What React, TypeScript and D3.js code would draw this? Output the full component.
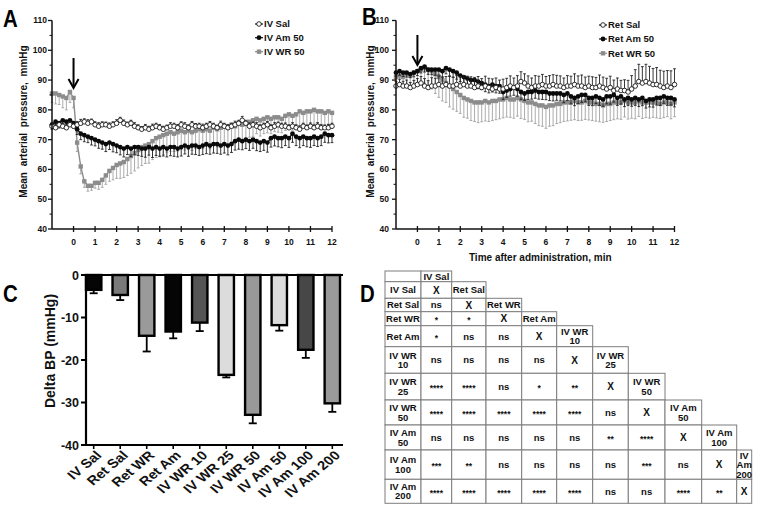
import React from 'react';
import * as d3 from 'd3';

const FONT = "'Liberation Sans', Arial, Helvetica, sans-serif";
const GREY = '#8c8c8c';
const GREY_ERR = '#a3a3a3';

// sampling grid: one reading every 10 s from -1 to 12 min
const times = d3.range(79).map((i) => -1 + i / 6);

// ---------- Panel A (IV) ----------
const ivSal = [
  74.5, 74, 75, 74.5, 74, 75,
  74.5, 75, 75.5, 76, 75.5, 76,
  75, 74.5, 75, 75, 74.5, 75,
  75.5, 76.5, 75.5, 75, 75.5, 74.5,
  74, 73.5, 74, 73.5, 74, 74.5,
  74, 73.5, 74, 74.5, 74.5, 74,
  75, 74.5, 74, 75, 74.5, 74.5,
  74, 74.5, 75, 74.5, 74, 75,
  74.5, 74, 74.5, 75, 75.5, 76.5,
  75.5, 74.5, 75, 74.5, 74, 74.5,
  75, 74, 74.5, 75, 74.5, 74.5,
  74, 74.5, 74, 73.5, 74.5, 74,
  74.5, 74, 74.5, 74, 74, 74,
  74.5,
];
const ivSalErr = [
  1, 1.2, 0.8, 1, 1.2, 0.9,
  1, 1.1, 1.3, 1, 1.2, 0.9,
  1, 1.2, 1, 0.9, 1.1, 1,
  1.2, 1, 1.1, 0.9, 1, 1.2,
  1, 0.9, 1.1, 1, 1.2, 1,
  1.1, 1, 0.9, 1.2, 1, 1.1,
  1, 1.2, 1, 1.1, 0.9, 1,
  1.2, 1, 1.1, 1, 0.9, 1.2,
  1, 1.1, 1, 1.2, 1, 1.3,
  1, 1.1, 0.9, 1.2, 1, 1,
  1.1, 1, 1.2, 0.9, 1, 1.1,
  1, 1.2, 1, 1.1, 1, 0.9,
  1.1, 1, 1.2, 1, 0.9, 1.1,
  1,
];
const ivAm50 = [
  75, 76, 75.5, 76.5, 76, 76.5,
  75.5, 73.5, 72, 71.5, 71, 70.5,
  70, 69.5, 69, 68.5, 69, 68.5,
  68, 67.5, 67, 67.5, 67, 67.5,
  67.5, 67, 67, 67.5, 67, 67.5,
  67, 67.5, 67, 67.5, 67.5, 67,
  67.5, 68, 67.5, 68, 68, 67.5,
  68, 68.5, 68, 68.5, 68.5, 68,
  68.5, 68, 68.5, 69.5, 70, 69.5,
  70, 69.5, 70, 69.5, 69, 69.5,
  69, 70.5, 71, 70.5, 70.5, 71,
  70.5, 72, 71, 70.5, 71, 70.5,
  70.5, 71, 70.5, 71, 72, 71.5,
  71.5,
];
const ivAm50Err = [
  1.5, 1.8, 1.6, 2, 1.7, 1.5,
  1.6, 1.8, 2, 2.2, 2, 2.3,
  2.1, 2.4, 2.2, 2.5, 2.3, 2.6,
  2.4, 2.6, 2.8, 2.5, 2.7, 2.6,
  2.8, 2.6, 2.9, 2.7, 3, 2.8,
  2.7, 3, 2.8, 2.9, 3.1, 2.8,
  3, 2.8, 3.1, 2.9, 3, 2.8,
  3, 3.2, 2.9, 3, 3.1, 2.9,
  3, 3.1, 2.8, 3, 3.2, 2.9,
  3, 3.1, 2.9, 3.2, 3, 3.1,
  3.2, 3, 3.1, 2.9, 3.2, 3,
  3.1, 2.9, 3, 3.2, 3, 2.9,
  3.1, 3, 2.8, 3, 2.9, 2.6,
  2.5,
];
const ivWR50 = [
  85.5, 85.5, 85, 84.5, 84, 86,
  84, 69, 61, 56, 54.5, 54.5,
  55.5, 55.5, 56.5, 58, 59.5, 60.5,
  61.5, 62, 62.5, 63.5, 64.5, 65.5,
  66.5, 67.5, 68, 68.5, 69.5, 70.5,
  71, 71.5, 72, 72.5, 72, 72.5,
  73, 72.5, 73, 72.5, 73, 73.5,
  73, 73.5, 73, 74, 73.5, 74,
  74.5, 74, 75, 74.5, 75.5, 75,
  75.5, 76, 76.5, 77, 76.5, 77,
  77.5, 77, 77.5, 77.5, 77, 78,
  78.5, 78, 78.5, 79.5, 79, 79.5,
  79.5, 80, 79.5, 79.5, 79, 79.5,
  79,
];
const ivWR50Err = [
  3, 3.5, 3.2, 3.8, 4, 3.5,
  3.3, 3, 2.5, 2, 1.8, 1.5,
  1.8, 2.2, 2.5, 3, 3.5, 4,
  4.5, 5, 5.2, 5.5, 5.8, 6,
  6, 6.2, 6, 6.4, 6.2, 6.5,
  6.3, 6.5, 6.2, 6.4, 6, 6.3,
  6.2, 6, 6.3, 6.1, 6, 5.8,
  6, 5.8, 6, 5.7, 5.9, 5.6,
  5.8, 5.5, 5.7, 5.4, 5.6, 5.3,
  5.5, 5.2, 5.4, 5, 5.3, 5,
  5.2, 5, 4.8, 5, 4.7, 4.9,
  4.6, 4.8, 4.5, 4.7, 4.4, 4.6,
  4.3, 4.5, 4.2, 4.4, 4.1, 4.3,
  4,
];

// ---------- Panel B (Ret) ----------
const retSal = [
  88, 88.5, 88, 88, 87.5, 88,
  88.5, 89, 88, 87.5, 88, 88,
  88.5, 88, 88.5, 88, 88, 88.5,
  88, 88.5, 88, 88, 87.5, 88,
  87.5, 88, 87.5, 87, 87.5, 87,
  87, 87.5, 88, 87.5, 88, 89.5,
  89, 88, 87.5, 88, 88, 88.5,
  88, 88, 88.5, 88, 88, 87.5,
  88, 88, 88.5, 88, 88, 87.5,
  88, 87.5, 87.5, 88, 87.5, 87,
  87.5, 86.5, 87, 86.5, 86.5, 86,
  87, 88, 89.5, 89, 89.5, 89,
  88.5, 88.5, 88, 87.5, 88, 87.5,
  88.5,
];
const retSalErr = [
  1.5, 1.8, 1.6, 2, 1.7, 1.9,
  2, 2.2, 2.5, 2.3, 2.8, 2.6,
  2.8, 3, 2.7, 3.2, 2.9, 3,
  3.2, 3, 3.3, 3.1, 3.4, 3.2,
  3, 3.3, 3.1, 3.4, 3.2, 3,
  3.3, 3.1, 3.4, 3.2, 3.5, 3.3,
  3.1, 3.4, 3.2, 3.5, 3.3, 3.4,
  3.2, 3.5, 3.3, 3.6, 3.4, 3.2,
  3.5, 3.3, 3.6, 3.4, 3.7, 3.5,
  3.3, 3.6, 3.4, 3.7, 3.5, 3.6,
  3.8, 3.5, 3.7, 3.4, 3.6, 3.9,
  4.5, 5.5, 5.8, 5.5, 5.8, 5.6,
  5.4, 5.7, 5.3, 5.5, 5.2, 5.6,
  5.3,
];
const retAm50 = [
  92.5, 93, 92.5, 92.5, 92, 92.5,
  93, 94, 94.5, 93.5, 93.5, 93.5,
  93.5, 93, 94, 93.5, 93, 92.5,
  91.5, 91, 90.5, 90, 90, 89.5,
  89, 88.5, 88, 88.5, 88, 88,
  86, 86.5, 87, 87.5, 87, 86,
  85.5, 86, 86, 86.5, 86, 86,
  86, 85.5, 85.5, 85.5, 85.5, 85,
  85.5, 84.5, 84, 84.5, 85, 85,
  84, 84, 84.5, 84, 83.5, 84.5,
  84.5, 85, 84, 84.5, 83.5, 84,
  83.5, 84, 83.5, 84, 83, 83.5,
  83.5, 84, 84, 84.5, 84, 84,
  83.5,
];
const retAm50Err = [
  1.2, 1.4, 1.3, 1.5, 1.2, 1.4,
  1.5, 1.6, 1.8, 1.6, 1.7, 1.9,
  1.8, 2, 1.9, 2.1, 2, 2.2,
  2, 2.2, 2.1, 2.3, 2.2, 2.4,
  2.2, 2.4, 2.3, 2.5, 2.3, 2.4,
  2.5, 2.3, 2.4, 2.6, 2.4, 2.5,
  2.3, 2.5, 2.4, 2.6, 2.4, 2.5,
  2.6, 2.4, 2.5, 2.3, 2.5, 2.6,
  2.4, 2.5, 2.6, 2.4, 2.5, 2.3,
  2.5, 2.6, 2.4, 2.5, 2.3, 2.5,
  2.6, 2.4, 2.5, 2.6, 2.4, 2.5,
  2.3, 2.5, 2.4, 2.6, 2.4, 2.5,
  2.6, 2.4, 2.5, 2.3, 2.5, 2.4,
  2.5,
];
const retWR50 = [
  91, 91.5, 91, 92, 91.5, 92.5,
  93, 93.5, 94, 93.5, 93, 92,
  91, 90, 89, 88, 87, 86,
  85, 84, 83.5, 83, 82.5, 82.5,
  82.5, 83, 82.5, 83, 83, 83.5,
  83.5, 84, 83.5, 83.5, 84, 83.5,
  83, 82.5, 82.5, 82, 81.5, 81.5,
  81, 81.5, 81.5, 82, 82, 82.5,
  82.5, 82.5, 83, 82.5, 82.5, 83,
  82.5, 82.5, 82, 82, 81.5, 82,
  82, 82.5, 82.5, 82.5, 83, 82.5,
  82.5, 82.5, 83, 82.5, 82.5, 82.5,
  82.5, 82.5, 82, 82.5, 82.5, 82,
  82.5,
];
const retWR50Err = [
  3, 3.5, 3.2, 3.8, 3.4, 4,
  4.2, 4.5, 5, 5.5, 6, 6.5,
  6.8, 7, 6.5, 7, 6.8, 6.5,
  6.2, 6.5, 6.3, 6.6, 6.4, 6.8,
  6.5, 6.7, 6.4, 6.6, 6.3, 6.5,
  6.2, 6.4, 6, 6.3, 6.1, 6.4,
  6.2, 6.5, 6.3, 6.6, 6.8, 7,
  7.2, 7, 6.8, 6.6, 6.3, 6.4,
  6.2, 6, 6.3, 6.1, 6, 6.2,
  5.9, 6.1, 5.8, 6, 5.7, 5.9,
  5.6, 5.8, 5.5, 5.7, 5.4, 5.6,
  5.3, 5.5, 5.2, 5.4, 5.1, 5.3,
  5, 5.2, 4.9, 5.1, 4.8, 5,
  4.8,
];

const xTicks = d3.range(0, 13);
const yTicksMajor = [40, 50, 60, 70, 80, 90, 100, 110];
const yTicksMinor = [45, 55, 65, 75, 85, 95, 105];

// ---------- Panel C ----------
const groups = ['IV Sal', 'Ret Sal', 'Ret WR', 'Ret Am', 'IV WR 10', 'IV WR 25', 'IV WR 50', 'IV Am 50', 'IV Am 100', 'IV Am 200'];
const deltaBP = [-3.5, -4.7, -14.3, -13.3, -11.2, -23.5, -32.9, -11.8, -17.6, -30.2];
const deltaErr = [0.8, 1.2, 3.7, 1.6, 2.0, 0.6, 2.0, 1.3, 1.9, 2.0];
const barFills = ['#050505', '#7a7a7a', '#9a9a9a', '#050505', '#555555', '#dcdcdc', '#999999', '#dcdcdc', '#474747', '#9a9a9a'];
const cTicks = [0, -10, -20, -30, -40];

// ---------- Panel D ----------
const rowLabels = [['IV Sal'], ['Ret Sal'], ['Ret WR'], ['Ret Am'], ['IV WR', '10'], ['IV WR', '25'], ['IV WR', '50'], ['IV Am', '50'], ['IV Am', '100'], ['IV Am', '200']];
const headerLabels = [['IV Sal'], ['Ret Sal'], ['Ret WR'], ['Ret Am'], ['IV WR', '10'], ['IV WR', '25'], ['IV WR', '50'], ['IV Am', '50'], ['IV Am', '100'], ['IV', 'Am', '200']];
const sigMatrix = [
  ['X'],
  ['ns', 'X'],
  ['*', '*', 'X'],
  ['*', 'ns', 'ns', 'X'],
  ['ns', 'ns', 'ns', 'ns', 'X'],
  ['****', '****', 'ns', '*', '**', 'X'],
  ['****', '****', '****', '****', '****', 'ns', 'X'],
  ['ns', 'ns', 'ns', 'ns', 'ns', '**', '****', 'X'],
  ['***', '**', 'ns', 'ns', 'ns', 'ns', '***', 'ns', 'X'],
  ['****', '****', '****', '****', '****', 'ns', 'ns', '****', '**', 'X'],
];
const colW = [36, 30.7, 34.3, 35.7, 35, 36, 35.6, 36.7, 36.7, 35, 15];
const rowH = [10.7, 16.6, 13.4, 14, 21, 26.6, 26.7, 25, 25, 29.3, 24];

type Kind = 'open' | 'black' | 'grey';
type Series = { values: number[]; err: number[]; dir: 1 | -1; kind: Kind };

function Marker({ cx, cy, kind }: { cx: number; cy: number; kind: Kind }) {
  if (kind === 'open') return <circle cx={cx} cy={cy} r={2.3} fill="#fff" stroke="#1a1a1a" strokeWidth={0.9} />;
  if (kind === 'black') return <circle cx={cx} cy={cy} r={2.4} fill="#0a0a0a" />;
  return <rect x={cx - 2.2} y={cy - 2.2} width={4.4} height={4.4} fill={GREY} />;
}

function TimePanel(props: {
  xRange: [number, number];
  series: Series[];
  legend: { label: string; kind: Kind }[];
  legendX: number;
  legendYs: number[];
  arrow: [number, number];
  yLabelX: number;
  tickEnd: number;
  title?: string;
}) {
  const { xRange, series, legend, legendX, legendYs, arrow, yLabelX, tickEnd, title } = props;
  const x = d3.scaleLinear().domain([-1, 12]).range(xRange);
  const y = d3.scaleLinear().domain([40, 110]).range([229, 20.5]);
  const line = d3.line<number>().x((_, i) => x(times[i])).y((d) => y(d));
  const [x0, x1] = xRange;
  const y0 = y(40);
  const ax = x(0);
  const colorOf = (k: Kind) => (k === 'grey' ? GREY : '#111');
  return (
    <g>
      {series.map((s, si) => (
        <g key={si}>
          {s.values.map((v, i) => {
            const cx = x(times[i]);
            const ye = y(v + s.dir * s.err[i]);
            const c = s.kind === 'grey' ? GREY_ERR : '#222';
            return (
              <g key={i} stroke={c} strokeWidth={0.9}>
                <line x1={cx} x2={cx} y1={y(v)} y2={ye} />
                <line x1={cx - 1.4} x2={cx + 1.4} y1={ye} y2={ye} />
              </g>
            );
          })}
          <path d={line(s.values) || ''} fill="none" stroke={colorOf(s.kind)} strokeWidth={s.kind === 'open' ? 0.9 : 1.4} />
          {s.values.map((v, i) => (
            <Marker key={i} cx={x(times[i])} cy={y(v)} kind={s.kind} />
          ))}
        </g>
      ))}
      {/* axes */}
      <line x1={x0} x2={x0} y1={y(110)} y2={y0} stroke="#111" strokeWidth={1.5} />
      <line x1={x0} x2={x1} y1={y0} y2={y0} stroke="#111" strokeWidth={1.5} />
      {yTicksMajor.map((t) => (
        <g key={t}>
          <line x1={x0 - 4} x2={x0} y1={y(t)} y2={y(t)} stroke="#111" strokeWidth={1.3} />
          <text x={tickEnd} y={y(t)} dy="0.35em" textAnchor="end" fontSize={8.5} fill="#111">{t}</text>
        </g>
      ))}
      {yTicksMinor.map((t) => (
        <line key={t} x1={x0 - 2.5} x2={x0} y1={y(t)} y2={y(t)} stroke="#111" strokeWidth={1} />
      ))}
      {xTicks.map((t) => (
        <g key={t}>
          <line x1={x(t)} x2={x(t)} y1={y0 - 3} y2={y0 + 3} stroke="#111" strokeWidth={1.3} />
          <text x={x(t)} y={245} textAnchor="middle" fontSize={8.5} fill="#111">{t}</text>
        </g>
      ))}
      <text transform={`translate(${yLabelX},${121.5}) rotate(-90)`} textAnchor="middle" fontSize={10} wordSpacing={3} fill="#111">
        Mean arterial pressure, mmHg
      </text>
      {title && (
        <text x={(x0 + x1) / 2 + 5} y={261} textAnchor="middle" fontSize={10} fill="#111">{title}</text>
      )}
      {/* arrow */}
      <g stroke="#000" strokeWidth={2} fill="none">
        <line x1={ax} x2={ax} y1={arrow[0]} y2={arrow[1] - 1} />
        <polyline points={`${ax - 5},${arrow[1] - 9} ${ax},${arrow[1]} ${ax + 5},${arrow[1] - 9}`} />
      </g>
      {/* legend */}
      {legend.map((l, i) => (
        <g key={l.label}>
          <line x1={legendX - 4} x2={legendX + 4} y1={legendYs[i]} y2={legendYs[i]} stroke={colorOf(l.kind)} strokeWidth={1.2} />
          <Marker cx={legendX} cy={legendYs[i]} kind={l.kind} />
          <text x={legendX + 5} y={legendYs[i]} dy="0.35em" fontSize={9.5} fill="#111">{l.label}</text>
        </g>
      ))}
    </g>
  );
}

function BarPanel() {
  const x = d3.scaleBand<string>().domain(groups).range([86, 340]).paddingInner(0.42).paddingOuter(0);
  const y = d3.scaleLinear().domain([-40, 0]).range([445, 275]);
  const bw = x.bandwidth();
  return (
    <g>
      {groups.map((g, i) => {
        const v = deltaBP[i];
        const cx = (x(g) as number) + bw / 2;
        const ye = y(v - deltaErr[i]);
        return (
          <g key={g}>
            <line x1={cx} x2={cx} y1={y(v)} y2={ye} stroke="#000" strokeWidth={1.8} />
            <line x1={cx - 4} x2={cx + 4} y1={ye} y2={ye} stroke="#000" strokeWidth={1.8} />
            <rect x={x(g)} y={y(0)} width={bw} height={y(v) - y(0)} fill={barFills[i]} stroke="#000" strokeWidth={2.4} />
          </g>
        );
      })}
      <line x1={86} x2={343} y1={y(0)} y2={y(0)} stroke="#000" strokeWidth={2} />
      <line x1={86} x2={343} y1={y(-40)} y2={y(-40)} stroke="#000" strokeWidth={2.2} />
      <line x1={86} x2={86} y1={y(0) - 1} y2={y(-40) + 1} stroke="#000" strokeWidth={2.2} />
      {cTicks.map((t) => (
        <g key={t}>
          <line x1={81} x2={86} y1={y(t)} y2={y(t)} stroke="#000" strokeWidth={2} />
          <text x={79} y={y(t)} dy="0.36em" textAnchor="end" fontSize={12.5} fill="#111">{t}</text>
        </g>
      ))}
      {groups.map((g) => {
        const cx = (x(g) as number) + bw / 2;
        return (
          <g key={g}>
            <line x1={cx} x2={cx} y1={445} y2={449} stroke="#000" strokeWidth={1.6} />
            <text transform={`translate(${cx + 5},${453}) scale(1.2,1) rotate(-45)`} textAnchor="end" dy="0.35em" fontSize={12.5} fill="#111">{g}</text>
          </g>
        );
      })}
      <text transform="translate(55,351) rotate(-90)" textAnchor="middle" fontSize={14} fill="#111">Delta BP (mmHg)</text>
    </g>
  );
}

function TablePanel() {
  const xs = [385, ...Array.from(d3.cumsum(colW)).map((v) => 385 + v)];
  const ys = [271, ...Array.from(d3.cumsum(rowH)).map((v) => 271 + v)];
  const cells: { r: number; c: number; lines: string[] }[] = [];
  cells.push({ r: 0, c: 0, lines: [] });
  cells.push({ r: 0, c: 1, lines: headerLabels[0] });
  groups.forEach((_, k) => {
    cells.push({ r: k + 1, c: 0, lines: rowLabels[k] });
    sigMatrix[k].forEach((s, j) => cells.push({ r: k + 1, c: j + 1, lines: [s] }));
    if (k < groups.length - 1) cells.push({ r: k + 1, c: k + 2, lines: headerLabels[k + 1] });
  });
  return (
    <g>
      {cells.map((cell, i) => {
        const x0 = xs[cell.c], x1 = xs[cell.c + 1];
        const y0 = ys[cell.r], y1 = ys[cell.r + 1];
        const cx = (x0 + x1) / 2, cy = (y0 + y1) / 2;
        const lh = 9.5;
        const n = cell.lines.length;
        return (
          <g key={i}>
            <rect x={x0} y={y0} width={x1 - x0} height={y1 - y0} fill="#fff" stroke="#7d7d7d" strokeWidth={1} />
            {cell.lines.map((ln, li) => {
              const stars = /^\*+$/.test(ln);
              return (
                <text key={li} x={cx} y={cy - ((n - 1) * lh) / 2 + li * lh} dy={stars ? '0.55em' : '0.36em'} textAnchor="middle" fontSize={stars ? 8.5 : ln === 'X' ? 10 : 9.5} fill="#111">
                  {ln}
                </text>
              );
            })}
          </g>
        );
      })}
    </g>
  );
}

export default function App() {
  return (
    <svg width={758} height={515} viewBox="0 0 758 515" style={{ position: 'absolute', left: 0, top: 0, background: '#fff' }} fontFamily={FONT} fontWeight="bold">
      <rect width={758} height={515} fill="#fff" />
      <TimePanel
        xRange={[52, 332]}
        series={[
          { values: ivWR50, err: ivWR50Err, dir: -1, kind: 'grey' },
          { values: ivAm50, err: ivAm50Err, dir: -1, kind: 'black' },
          { values: ivSal, err: ivSalErr, dir: 1, kind: 'open' },
        ]}
        legend={[
          { label: 'IV Sal', kind: 'open' },
          { label: 'IV Am 50', kind: 'black' },
          { label: 'IV WR 50', kind: 'grey' },
        ]}
        legendX={259}
        legendYs={[24, 37.7, 51.7]}
        arrow={[58, 88]}
        yLabelX={27}
        tickEnd={47}
      />
      <TimePanel
        xRange={[396, 674.5]}
        series={[
          { values: retWR50, err: retWR50Err, dir: -1, kind: 'grey' },
          { values: retAm50, err: retAm50Err, dir: -1, kind: 'black' },
          { values: retSal, err: retSalErr, dir: 1, kind: 'open' },
        ]}
        legend={[
          { label: 'Ret Sal', kind: 'open' },
          { label: 'Ret Am 50', kind: 'black' },
          { label: 'Ret WR 50', kind: 'grey' },
        ]}
        legendX={603}
        legendYs={[25, 39, 53.3]}
        arrow={[35, 65]}
        yLabelX={374}
        tickEnd={389}
        title="Time after administration, min"
      />
      <BarPanel />
      <TablePanel />
      <g fontSize={24} fill="#000">
        <text transform="translate(3,27) scale(0.85,1)">A</text>
        <text transform="translate(362,25) scale(0.85,1)">B</text>
        <text transform="translate(3,302) scale(0.85,1)">C</text>
        <text transform="translate(360,302) scale(0.85,1)">D</text>
      </g>
    </svg>
  );
}
